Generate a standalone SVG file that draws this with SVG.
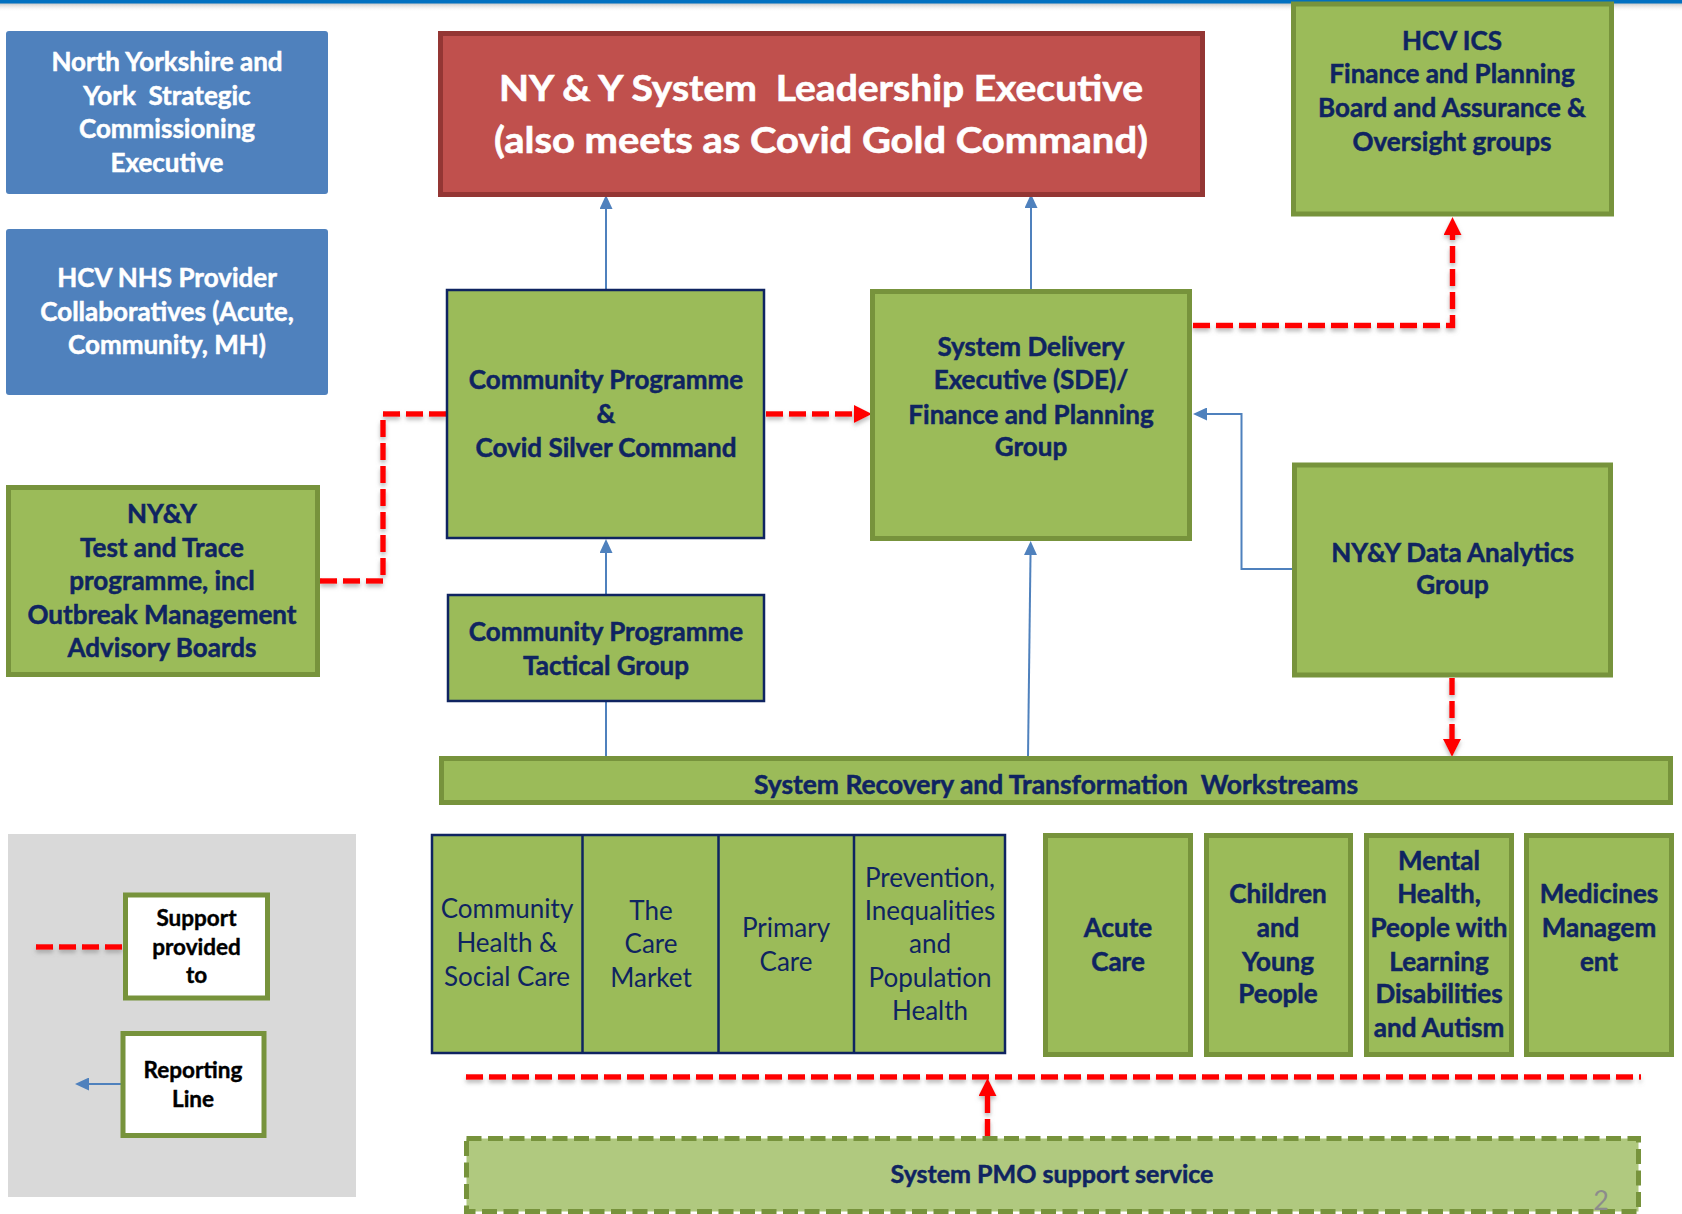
<svg xmlns="http://www.w3.org/2000/svg" width="1682" height="1214" viewBox="0 0 1682 1214">
<defs>
<linearGradient id="topShadow" x1="0" y1="0" x2="0" y2="1">
<stop offset="0" stop-color="#9a9a9a" stop-opacity="0.6"/>
<stop offset="1" stop-color="#ffffff" stop-opacity="0"/>
</linearGradient>
<filter id="shadow" filterUnits="userSpaceOnUse" x="0" y="0" width="1682" height="1214">
<feDropShadow dx="0" dy="3" stdDeviation="2" flood-color="#808080" flood-opacity="0.55"/>
</filter>
<marker id="arrBlue" markerUnits="userSpaceOnUse" markerWidth="14" markerHeight="13" viewBox="0 0 14 13" refX="0" refY="6.5" orient="auto">
<path d="M0,0 L14,6.5 L0,13 z" fill="#4F81BD"/>
</marker>
<marker id="arrRed" markerUnits="userSpaceOnUse" markerWidth="18" markerHeight="18" viewBox="0 0 18 18" refX="0" refY="9" orient="auto">
<path d="M0,0 L18,9 L0,18 z" fill="#FF0000"/>
</marker>
</defs>
<style>
text{font-family:Lato,"Open Sans","Liberation Sans",sans-serif;text-anchor:middle;white-space:pre}
.wt{fill:#FFFFFF;stroke:#FFFFFF;stroke-width:0.5;font-size:26px;font-weight:bold}
.nv{fill:#0F2461;stroke:#0F2461;stroke-width:0.5;font-size:26px;font-weight:bold}
.nr{fill:#0F2461;font-size:26px;font-weight:normal}
.blk{fill:#000000;stroke:#000000;stroke-width:0.4;font-size:22.5px;font-weight:bold}
.ttl{fill:#FFFFFF;stroke:#FFFFFF;stroke-width:0.6;font-size:37px;font-weight:bold}
.blue{fill:#4F81BD}
.grn{fill:#9BBB59;stroke:#77933C;stroke-width:5}
.grnN{fill:#9BBB59;stroke:#0F2461;stroke-width:2.5}
.wht{fill:#FFFFFF;stroke:#77933C;stroke-width:5}
.rep{fill:none;stroke:#4F81BD;stroke-width:2}
.sup{fill:none;stroke:#FF0000;stroke-width:5.5;stroke-dasharray:17 6;filter:url(#shadow)}
</style>
<rect x="0" y="0" width="1682" height="1214" fill="#FFFFFF"/>
<rect x="0" y="3" width="1682" height="9" fill="url(#topShadow)"/>
<rect x="0" y="0" width="1682" height="3.5" fill="#0070C0"/>

<g id="connectors">
<line class="rep" x1="606" y1="289" x2="606" y2="209" marker-end="url(#arrBlue)"/>
<line class="rep" x1="1031" y1="289" x2="1031" y2="208" marker-end="url(#arrBlue)"/>
<line class="rep" x1="606" y1="594" x2="606" y2="553" marker-end="url(#arrBlue)"/>
<line class="rep" x1="606" y1="757" x2="606" y2="702"/>
<line class="rep" x1="1028" y1="757" x2="1030.5" y2="555" marker-end="url(#arrBlue)"/>
<polyline class="rep" points="1293,569 1241.5,569 1241.5,414 1207,414" marker-end="url(#arrBlue)"/>
<polyline class="sup" points="320,581 383,581 383,414 447,414"/>
<line class="sup" x1="766" y1="414" x2="854" y2="414" marker-end="url(#arrRed)"/>
<polyline class="sup" points="1193,325.5 1452.5,325.5 1452.5,235" marker-end="url(#arrRed)"/>
<line class="sup" x1="1452" y1="678" x2="1452" y2="739" marker-end="url(#arrRed)"/>
<line class="sup" x1="466" y1="1077" x2="1641" y2="1077"/>
<line class="sup" x1="987.5" y1="1136" x2="987.5" y2="1096" marker-end="url(#arrRed)"/>
</g>

<g id="nyy-strategic">
<rect x="6" y="31" width="322" height="163" rx="3" class="blue"/>
<text class="wt" x="167" y="71">North Yorkshire and</text>
<text class="wt" x="167" y="105">York  Strategic</text>
<text class="wt" x="167" y="138">Commissioning</text>
<text class="wt" x="167" y="172">Executive</text>
</g>

<g id="hcv-nhs">
<rect x="6" y="229" width="322" height="166" rx="3" class="blue"/>
<text class="wt" x="167" y="287">HCV NHS Provider</text>
<text class="wt" x="167" y="321">Collaboratives (Acute,</text>
<text class="wt" x="167" y="354">Community, MH)</text>
</g>

<g id="leadership">
<rect x="440.5" y="33.5" width="762" height="161" fill="#C0504D" stroke="#943634" stroke-width="5"/>
<text class="ttl" x="821" y="101" textLength="644" lengthAdjust="spacingAndGlyphs">NY &amp; Y System  Leadership Executive</text>
<text class="ttl" x="821" y="153" textLength="654" lengthAdjust="spacingAndGlyphs">(also meets as Covid Gold Command)</text>
</g>

<g id="hcv-ics">
<rect x="1293.5" y="4" width="318" height="210" class="grn"/>
<text class="nv" x="1452" y="50">HCV ICS</text>
<text class="nv" x="1452" y="83">Finance and Planning</text>
<text class="nv" x="1452" y="117">Board and Assurance &amp;</text>
<text class="nv" x="1452" y="151">Oversight groups</text>
</g>

<g id="cp-silver">
<rect x="447" y="290" width="317" height="248" class="grnN"/>
<text class="nv" x="606" y="389">Community Programme</text>
<text class="nv" x="606" y="423">&amp;</text>
<text class="nv" x="606" y="457">Covid Silver Command</text>
</g>

<g id="sde">
<rect x="872.5" y="291.5" width="317" height="247" class="grn"/>
<text class="nv" x="1031" y="356">System Delivery</text>
<text class="nv" x="1031" y="389">Executive (SDE)/</text>
<text class="nv" x="1031" y="424">Finance and Planning</text>
<text class="nv" x="1031" y="456">Group</text>
</g>

<g id="test-trace">
<rect x="8.5" y="487.5" width="309" height="187" class="grn"/>
<text class="nv" x="162" y="523">NY&amp;Y</text>
<text class="nv" x="162" y="557">Test and Trace</text>
<text class="nv" x="162" y="590">programme, incl</text>
<text class="nv" x="162" y="624">Outbreak Management</text>
<text class="nv" x="162" y="657">Advisory Boards</text>
</g>

<g id="cp-tactical">
<rect x="448" y="595" width="316" height="106" class="grnN"/>
<text class="nv" x="606" y="641">Community Programme</text>
<text class="nv" x="606" y="675">Tactical Group</text>
</g>

<g id="data-analytics">
<rect x="1294.5" y="465" width="316" height="210" class="grn"/>
<text class="nv" x="1452.5" y="562">NY&amp;Y Data Analytics</text>
<text class="nv" x="1452.5" y="594">Group</text>
</g>

<g id="workstreams">
<rect x="441.5" y="758.5" width="1229" height="44" class="grn"/>
<text class="nv" x="1056" y="794" textLength="604" lengthAdjust="spacingAndGlyphs">System Recovery and Transformation  Workstreams</text>
</g>

<g id="community-workstreams">
<rect x="432" y="835" width="573" height="218" class="grnN"/>
<line x1="582.5" y1="835" x2="582.5" y2="1053" stroke="#0F2461" stroke-width="2.5"/>
<line x1="718.5" y1="835" x2="718.5" y2="1053" stroke="#0F2461" stroke-width="2.5"/>
<line x1="854" y1="835" x2="854" y2="1053" stroke="#0F2461" stroke-width="2.5"/>
<text class="nr" x="507" y="918">Community</text>
<text class="nr" x="507" y="952">Health &amp;</text>
<text class="nr" x="507" y="986">Social Care</text>
<text class="nr" x="651" y="920">The</text>
<text class="nr" x="651" y="953">Care</text>
<text class="nr" x="651" y="987">Market</text>
<text class="nr" x="786" y="937">Primary</text>
<text class="nr" x="786" y="971">Care</text>
<text class="nr" x="930" y="887">Prevention,</text>
<text class="nr" x="930" y="920">Inequalities</text>
<text class="nr" x="930" y="953">and</text>
<text class="nr" x="930" y="987">Population</text>
<text class="nr" x="930" y="1020">Health</text>
</g>

<g id="acute-care">
<rect x="1045.5" y="835.5" width="145" height="219" class="grn"/>
<text class="nv" x="1118" y="937">Acute</text>
<text class="nv" x="1118" y="971">Care</text>
</g>

<g id="children">
<rect x="1206.5" y="835.5" width="144" height="219" class="grn"/>
<text class="nv" x="1278" y="903">Children</text>
<text class="nv" x="1278" y="937">and</text>
<text class="nv" x="1278" y="971">Young</text>
<text class="nv" x="1278" y="1003">People</text>
</g>

<g id="mental-health">
<rect x="1366.5" y="835.5" width="145" height="219" class="grn"/>
<text class="nv" x="1439" y="870">Mental</text>
<text class="nv" x="1439" y="903">Health,</text>
<text class="nv" x="1439" y="937">People with</text>
<text class="nv" x="1439" y="971">Learning</text>
<text class="nv" x="1439" y="1003">Disabilities</text>
<text class="nv" x="1439" y="1037">and Autism</text>
</g>

<g id="medicines">
<rect x="1526.5" y="835.5" width="145" height="219" class="grn"/>
<text class="nv" x="1599" y="903">Medicines</text>
<text class="nv" x="1599" y="937">Managem</text>
<text class="nv" x="1599" y="971">ent</text>
</g>

<g id="pmo">
<rect x="466.5" y="1138.5" width="1172" height="73" fill="#B0C97F" stroke="#77933C" stroke-width="5" stroke-dasharray="15 6.5"/>
<text class="nv" x="1052" y="1183" style="font-size:25px">System PMO support service</text>
</g>

<text x="1601" y="1210" fill="#8C8C8C" font-size="27">2</text>

<g id="legend">
<rect x="8" y="834" width="348" height="363" fill="#D9D9D9"/>
<line class="sup" x1="36" y1="947" x2="122" y2="947"/>
<line class="rep" x1="121" y1="1084" x2="89" y2="1084" marker-end="url(#arrBlue)"/>
<g id="legend-support">
<rect x="125.5" y="895" width="142" height="103" class="wht"/>
<text class="blk" x="196.5" y="926">Support</text>
<text class="blk" x="196.5" y="955">provided</text>
<text class="blk" x="196.5" y="983">to</text>
</g>
<g id="legend-reporting">
<rect x="123" y="1033.5" width="141" height="102" class="wht"/>
<text class="blk" x="193" y="1078">Reporting</text>
<text class="blk" x="193" y="1107">Line</text>
</g>
</g>
</svg>
